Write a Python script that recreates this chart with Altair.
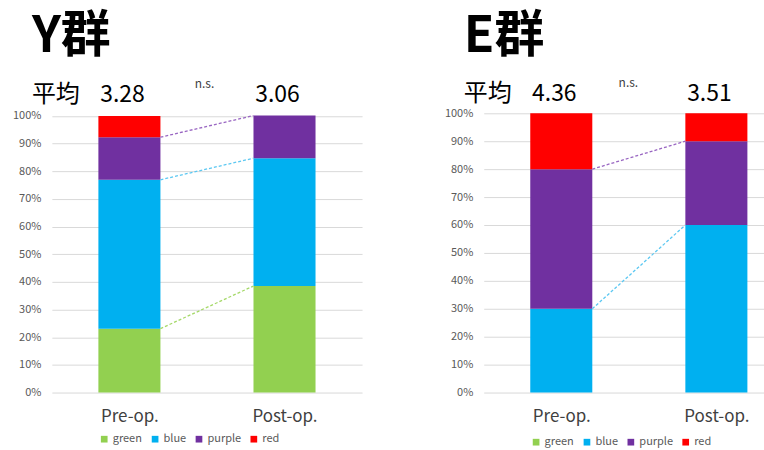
import altair as alt
import numpy as np
import pandas as pd

# ---------------- data ----------------
CATEGORIES = ["green", "blue", "purple", "red"]
COLORS = ["#92D050", "#00B0F0", "#7030A0", "#FF0000"]
LINE_COLORS = ["#A6D96A", "#5CC8F2", "#9966C2", "#FF6666"]
TIMES = ["Pre-op.", "Post-op."]

Y_PRE = [23.1, 53.8, 15.4, 7.7]
Y_POST = [38.5, 46.2, 15.4, 0.0]
E_PRE = [0.0, 30.0, 50.0, 20.0]
E_POST = [0.0, 60.0, 30.0, 10.0]

GROUP_TITLES = ["Y群", "E群"]
MEAN_LABEL = "平均"
Y_MEANS = ["3.28", "3.06"]
E_MEANS = ["4.36", "3.51"]
SIG_LABEL = "n.s."
Y_LINKS = ["green", "blue", "purple"]
E_LINKS = ["blue", "purple"]

# ---------------- layout constants ----------------
X_POS = [0.25, 0.75]
HALF = 0.1
FONT = "Noto Sans CJK JP"
Y_TICKS = [i / 10 for i in range(11)]


def panel(pre, post, links, means, title, width, height, xmax, ymax,
          title_y, mean_y, ns_x, ns_y, legend_y):
    rows = []
    for t, vals in enumerate([pre, post]):
        for i, c in enumerate(CATEGORIES):
            rows.append({"time": TIMES[t], "xc": X_POS[t], "category": c,
                         "order": i, "value": vals[i] / 100})
    bars_df = pd.DataFrame(rows)

    cum_pre = np.cumsum(pre) / 100
    cum_post = np.cumsum(post) / 100
    link_rows = []
    for c in links:
        i = CATEGORIES.index(c)
        link_rows.append({"category": c, "x0": X_POS[0] + HALF, "x1": X_POS[1] - HALF,
                          "y0": float(cum_pre[i]), "y1": float(cum_post[i])})
    links_df = pd.DataFrame(link_rows)

    xscale = alt.Scale(domain=[0, xmax], nice=False, zero=False)
    yscale = alt.Scale(domain=[0, ymax], nice=False)
    label_expr = f"datum.value < 0.5 ? '{TIMES[0]}' : '{TIMES[1]}'"
    xaxis = alt.Axis(values=X_POS, labelExpr=label_expr, grid=False, domain=False,
                     ticks=False, labelFontSize=17, labelColor="#404040",
                     labelPadding=16, labelFont=FONT, title=None)
    yaxis = alt.Axis(values=Y_TICKS, format=".0%", gridColor="#D9D9D9",
                     domain=False, ticks=False, labelFontSize=11,
                     labelColor="#595959", labelPadding=11, labelFont=FONT, title=None)

    bars = alt.Chart(bars_df).transform_stack(
        stack="value", groupby=["time"], sort=[alt.SortField("order", order="ascending")],
        as_=["y0", "y1"]
    ).transform_calculate(
        lo=f"datum.xc - {HALF}", hi=f"datum.xc + {HALF}"
    ).mark_bar().encode(
        x=alt.X("lo:Q", scale=xscale, axis=xaxis),
        x2="hi:Q",
        y=alt.Y("y0:Q", scale=yscale, axis=yaxis),
        y2="y1:Q",
        color=alt.Color("category:N",
                        scale=alt.Scale(domain=CATEGORIES, range=COLORS),
                        legend=alt.Legend(title=None, orient="none", direction="horizontal",
                                          legendX=47, legendY=legend_y, symbolType="square",
                                          symbolSize=45, labelFontSize=11, labelColor="#595959",
                                          columnPadding=7, labelOffset=3, labelFont=FONT,
                                          symbolStrokeWidth=0)),
    )

    link_layer = alt.Chart(links_df).mark_rule(strokeDash=[3, 2], strokeWidth=1.3).encode(
        x=alt.X("x0:Q", scale=xscale, axis=xaxis),
        x2="x1:Q",
        y=alt.Y("y0:Q", scale=yscale, axis=yaxis),
        y2="y1:Q",
        stroke=alt.Stroke("category:N",
                          scale=alt.Scale(domain=CATEGORIES, range=LINE_COLORS),
                          legend=None),
    )

    title_layer = alt.Chart(pd.DataFrame({"t": [title]})).mark_text(
        align="left", baseline="alphabetic", fontSize=50, fontWeight="bold",
        font=FONT, color="#000000"
    ).encode(x=alt.value(-20), y=alt.value(title_y), text="t:N")

    mean_word = alt.Chart(pd.DataFrame({"t": [MEAN_LABEL]})).mark_text(
        align="left", baseline="alphabetic", fontSize=24, font=FONT, color="#000000"
    ).encode(x=alt.value(-20), y=alt.value(mean_y), text="t:N")

    mean_vals = alt.Chart(pd.DataFrame({"xc": X_POS, "t": means})).mark_text(
        align="center", baseline="alphabetic", fontSize=23, font=FONT,
        color="#000000", dx=-7
    ).encode(x=alt.X("xc:Q", scale=xscale, axis=xaxis), y=alt.value(mean_y), text="t:N")

    ns = alt.Chart(pd.DataFrame({"t": [SIG_LABEL]})).mark_text(
        align="center", baseline="middle", fontSize=12, font=FONT, color="#404040"
    ).encode(x=alt.value(ns_x), y=alt.value(ns_y), text="t:N")

    return alt.layer(bars, link_layer, title_layer, mean_word, mean_vals, ns).properties(
        width=width, height=height
    ).resolve_scale(stroke="independent")


left = panel(Y_PRE, Y_POST, Y_LINKS, Y_MEANS, GROUP_TITLES[0], 311, 280, 1.0, 280 / 277.4,
             title_y=-61, mean_y=-11, ns_x=153, ns_y=-29, legend_y=321)
right = panel(E_PRE, E_POST, E_LINKS, E_MEANS, GROUP_TITLES[1], 281, 280, 281 / 311, 1.0,
              title_y=-61, mean_y=-12, ns_x=145, ns_y=-30, legend_y=324)

chart = alt.hconcat(left, right, spacing=82).resolve_scale(
    color="independent", stroke="independent", x="independent", y="independent"
).properties(
    padding={"left": 12, "top": 12, "right": 0, "bottom": 0},
    background="white",
).configure_view(stroke=None)

chart.save("out.html", embed_options={"renderer": "svg", "actions": False})
